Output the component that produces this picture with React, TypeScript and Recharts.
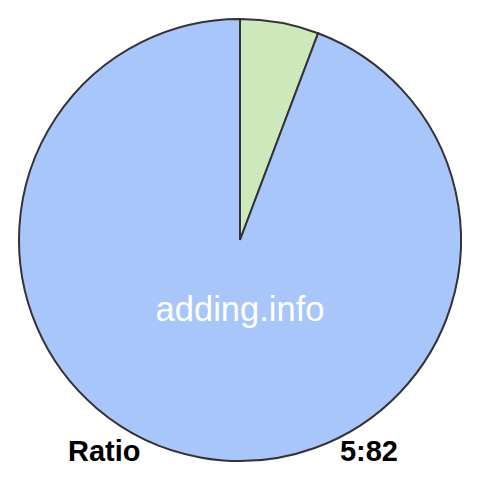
import { PieChart, Pie, Cell } from "recharts";

const NAMES = ["first", "second"];
const VALUES = [5, 82];
const COLORS = ["#cde8bb", "#a8c6fa"];
const TITLE = "adding.info";
const LEFT_LABEL = "Ratio";
const RIGHT_LABEL = "5:82";

const DATA = NAMES.map((name, i) => ({ name, value: VALUES[i] }));

export default function App() {
  return (
    <div style={{ position: "fixed", left: 0, top: 0, width: 480, height: 480, background: "#fff" }}>
      <PieChart width={480} height={480} margin={{ top: 0, right: 0, bottom: 0, left: 0 }}>
        <Pie
          data={DATA}
          dataKey="value"
          cx={240}
          cy={240}
          innerRadius={0}
          outerRadius={221}
          startAngle={90}
          endAngle={-270}
          stroke="#333333"
          strokeWidth={2}
          isAnimationActive={false}
        >
          {DATA.map((d, i) => (
            <Cell key={d.name} fill={COLORS[i]} />
          ))}
        </Pie>
      </PieChart>
      <svg width={480} height={480} style={{ position: "absolute", left: 0, top: 0, pointerEvents: "none" }}>
        <text x={240} y={321} textAnchor="middle" fill="#ffffff" fontFamily="Liberation Sans, Arial, sans-serif" fontSize={34.5}>
          {TITLE}
        </text>
        <text x={68} y={461} fill="#000" fontFamily="Liberation Sans, Arial, sans-serif" fontWeight="bold" fontSize={29}>
          {LEFT_LABEL}
        </text>
        <text x={398} y={461} textAnchor="end" fill="#000" fontFamily="Liberation Sans, Arial, sans-serif" fontWeight="bold" fontSize={29}>
          {RIGHT_LABEL}
        </text>
      </svg>
    </div>
  );
}
